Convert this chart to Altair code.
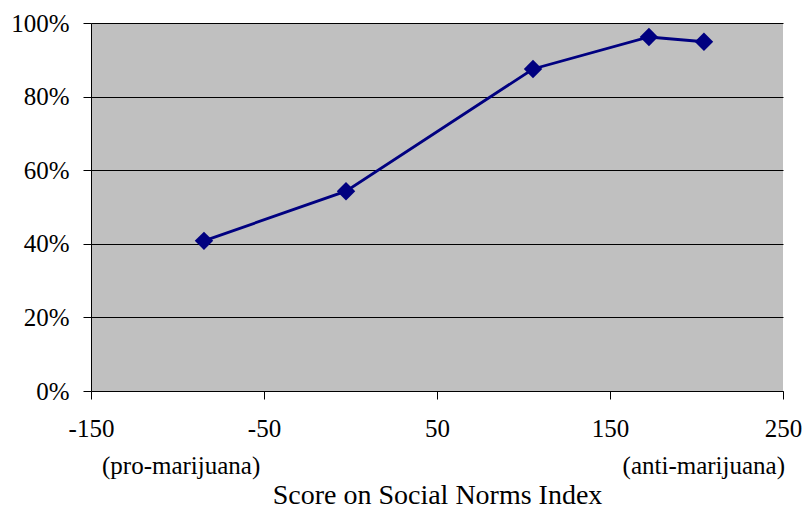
import altair as alt
import pandas as pd

# Social norms index score vs. share of respondents
scores = [-84.7, -2.6, 105.5, 172.5, 204.3]
shares = [0.408, 0.543, 0.875, 0.962, 0.949]

annot_text = ["(pro-marijuana)", "(anti-marijuana)"]
annot_x = [-150, 250]
annot_align = ["left", "right"]

df = pd.DataFrame({"score": scores, "share": shares})
ann = pd.DataFrame({"label": annot_text, "x": annot_x, "align": annot_align})

FONT = "Liberation Serif"

x_enc = alt.X(
    "score:Q",
    scale=alt.Scale(domain=[-150, 250], nice=False, zero=False),
    axis=alt.Axis(
        values=[-150, -50, 50, 150, 250],
        labelExpr="toString(datum.value)",
        labelFlush=False,
        title="Score on Social Norms Index",
        grid=False,
    ),
)
y_enc = alt.Y(
    "share:Q",
    scale=alt.Scale(domain=[0, 1], nice=False),
    axis=alt.Axis(
        values=[0, 0.2, 0.4, 0.6, 0.8, 1.0],
        format=".0%",
        labelFlush=False,
        title=None,
        grid=True,
    ),
)

line = alt.Chart(df).mark_line(color="#000080", strokeWidth=2.8).encode(x=x_enc, y=y_enc)
pts = alt.Chart(df).mark_point(
    shape="diamond", filled=True, color="#000080", size=340, opacity=1
).encode(x="score:Q", y="share:Q")

left_note = alt.Chart(ann[ann["align"] == "left"]).mark_text(
    align="left", baseline="middle", font=FONT, fontSize=25, color="black", dx=11
).encode(x="x:Q", y=alt.value(443), text="label:N")
right_note = alt.Chart(ann[ann["align"] == "right"]).mark_text(
    align="right", baseline="middle", font=FONT, fontSize=25, color="black", dx=2
).encode(x="x:Q", y=alt.value(443), text="label:N")

chart = (
    alt.layer(line, pts, left_note, right_note)
    .properties(
        width=692,
        height=368,
        autosize=alt.AutoSizeParams(type="none"),
        padding={"left": 91, "top": 23, "right": 23, "bottom": 119},
    )
    .configure_view(fill="#C0C0C0", stroke=None)
    .configure_axis(
        domainColor="black",
        domainWidth=1,
        tickColor="black",
        tickSize=8,
        tickWidth=1,
        gridColor="black",
        gridWidth=1,
        labelFont=FONT,
        labelFontSize=25,
        labelColor="black",
        titleFont=FONT,
        titleFontSize=28,
        titleFontWeight="normal",
        titleColor="black",
    )
    .configure_axisY(labelPadding=14)
    .configure_axisX(labelPadding=17, titlePadding=40)
)

chart.save("out.html", embed_options={"renderer": "svg", "actions": False})
